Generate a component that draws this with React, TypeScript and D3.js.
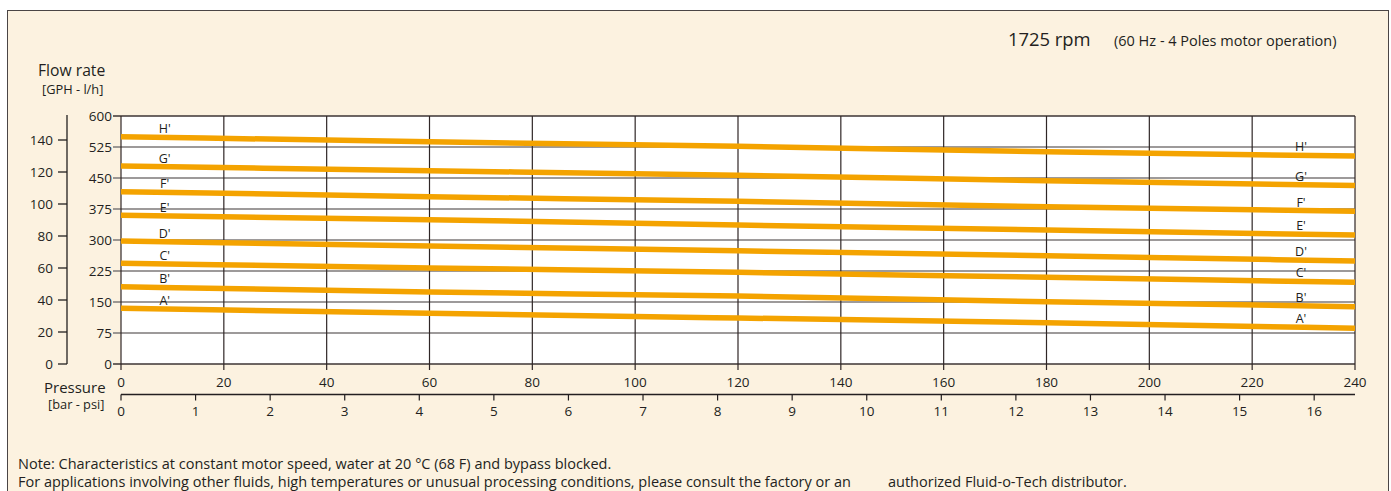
import React from "react";
import * as d3 from "d3";

const pressurePsi = [0, 60, 120, 180, 240];
const seriesNames = ["A'", "B'", "C'", "D'", "E'", "F'", "G'", "H'"];
const flowA = [134.7, 122.6, 111.3, 99.9, 86.4];
const flowB = [187, 174.2, 164.5, 150.7, 138.6];
const flowC = [243.6, 232.3, 221.8, 209.7, 197.6];
const flowD = [297.6, 285.5, 274, 262, 249];
const flowE = [359.7, 349, 336.3, 324.2, 312];
const flowF = [417, 404.8, 393.5, 380.6, 369.4];
const flowG = [479, 467.7, 456.5, 443.5, 432];
const flowH = [550, 537.8, 526.6, 513.6, 503];
const allFlows = [flowA, flowB, flowC, flowD, flowE, flowF, flowG, flowH];

const lhTicks = [0, 75, 150, 225, 300, 375, 450, 525, 600];
const gphTicks = [0, 20, 40, 60, 80, 100, 120, 140];
const psiTicks = [0, 20, 40, 60, 80, 100, 120, 140, 160, 180, 200, 220, 240];
const barTicks = [0, 1, 2, 3, 4, 5, 6, 7, 8, 9, 10, 11, 12, 13, 14, 15, 16];
const PSI_PER_BAR = 14.5038;

const FONT = "'Open Sans', 'Noto Sans', sans-serif";
const TEXT = "#231f20";
const ORANGE = "#f4a300";
const BG = "#fcf2e0";

export default function App() {
  const W = 1391, H = 491;
  const x = d3.scaleLinear().domain([0, 240]).range([121, 1355]);
  const yL = d3.scaleLinear().domain([0, 600]).range([364, 116]);
  const yG = d3.scaleLinear().domain([0, 155]).range([364, 116]);
  const line = d3
    .line<number>()
    .x((_, i) => x(pressurePsi[i]))
    .y((d) => yL(d))
    .curve(d3.curveMonotoneX);

  const leftLabelP = 8.5;
  const rightLabelP = 229.5;

  return (
    <svg
      width={W}
      height={H}
      style={{ position: "absolute", left: 0, top: 0, display: "block" }}
      fontFamily={FONT}
    >
      <rect x={0} y={0} width={W} height={H} fill="#ffffff" />
      <rect x={7.5} y={10.5} width={1381} height={500} fill={BG} stroke="#4a4545" strokeWidth={1} />

      {/* plot area */}
      <rect x={x(0)} y={yL(600)} width={x(240) - x(0)} height={yL(0) - yL(600)} fill="#ffffff" />

      {/* horizontal grid */}
      {lhTicks.map((t) => (
        <line key={"h" + t} x1={x(0) - 8} x2={x(240)} y1={yL(t)} y2={yL(t)} stroke={t === 0 || t === 600 ? "#3d3535" : "#7d7878"} strokeWidth={1.3} />
      ))}
      {/* vertical grid */}
      {psiTicks.map((t) => (
        <line key={"v" + t} x1={x(t)} x2={x(t)} y1={yL(600)} y2={yL(0) + 6} stroke="#2f2626" strokeWidth={1.2} />
      ))}

      {/* curves */}
      {allFlows.map((vals, i) => (
        <path key={"c" + i} d={line(vals) || ""} fill="none" stroke={ORANGE} strokeWidth={5.5} />
      ))}
      {allFlows.map((vals, i) => {
        const interp = d3.scaleLinear().domain(pressurePsi).range(vals);
        return (
          <g key={"l" + i} fontSize={12.5} fill={TEXT} textAnchor="middle">
            <text x={x(leftLabelP)} y={yL(interp(leftLabelP)) - 4}>{seriesNames[i]}</text>
            <text x={x(rightLabelP)} y={yL(interp(rightLabelP)) - 4}>{seriesNames[i]}</text>
          </g>
        );
      })}

      {/* l/h axis labels */}
      {lhTicks.map((t) => (
        <text key={"lt" + t} x={112} y={yL(t) + 5} fontSize={13.5} fill={TEXT} textAnchor="end">{t}</text>
      ))}

      {/* GPH axis */}
      <line x1={67} x2={67} y1={115} y2={yG(0)} stroke={TEXT} strokeWidth={1.3} />
      {gphTicks.map((t) => (
        <g key={"g" + t}>
          <line x1={58} x2={67} y1={yG(t)} y2={yG(t)} stroke={TEXT} strokeWidth={1.3} />
          <text x={53} y={yG(t) + 5} fontSize={13.5} fill={TEXT} textAnchor="end">{t}</text>
        </g>
      ))}

      {/* psi labels */}
      {psiTicks.map((t) => (
        <text key={"pt" + t} x={x(t)} y={387} fontSize={13.5} fill={TEXT} textAnchor="middle">{t}</text>
      ))}

      {/* bar axis */}
      <line x1={x(0)} x2={x(240)} y1={394.5} y2={394.5} stroke={TEXT} strokeWidth={1.3} />
      {barTicks.map((b) => (
        <g key={"b" + b}>
          <line x1={x(b * PSI_PER_BAR)} x2={x(b * PSI_PER_BAR)} y1={394.5} y2={400.5} stroke={TEXT} strokeWidth={1.2} />
          <text x={x(b * PSI_PER_BAR)} y={416} fontSize={13.5} fill={TEXT} textAnchor="middle">{b}</text>
        </g>
      ))}

      {/* axis titles */}
      <text x={38} y={76} fontSize={15.7} fill={TEXT}>Flow rate</text>
      <text x={42} y={94} fontSize={12.8} fill={TEXT}>[GPH - l/h]</text>
      <text x={44} y={393} fontSize={15} fill={TEXT}>Pressure</text>
      <text x={48} y={409} fontSize={12.8} fill={TEXT}>[bar - psi]</text>

      {/* header */}
      <text x={1008} y={46} fontSize={18.4} fill={TEXT}>1725 rpm</text>
      <text x={1114} y={46} fontSize={14.5} fill={TEXT}>(60 Hz - 4 Poles motor operation)</text>

      {/* notes */}
      <text x={18} y={469} fontSize={14.5} fill={TEXT}>Note: Characteristics at constant motor speed, water at 20 °C (68 F) and bypass blocked.</text>
      <text x={18} y={487} fontSize={14.5} fill={TEXT}>For applications involving other fluids, high temperatures or unusual processing conditions, please consult the factory or an</text>
      <text x={888} y={487} fontSize={14.5} fill={TEXT}>authorized Fluid-o-Tech distributor.</text>
    </svg>
  );
}
